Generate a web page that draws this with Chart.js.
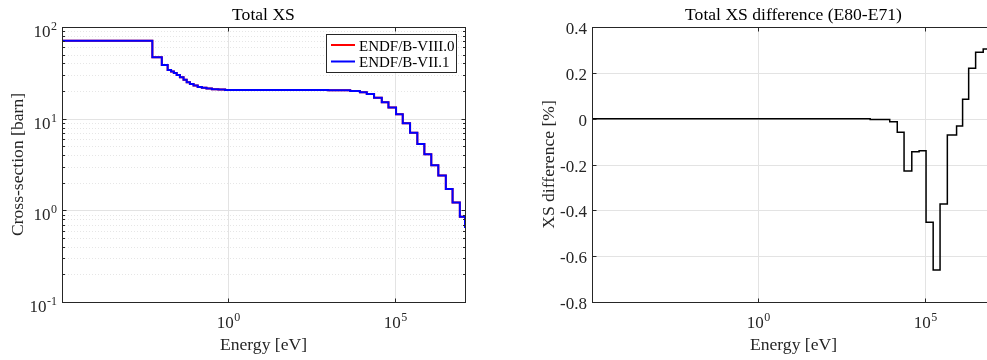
<!DOCTYPE html>
<html>
<head>
<meta charset="utf-8">
<script src="https://cdn.jsdelivr.net/npm/chart.js@4.4.1/dist/chart.umd.min.js"></script>
<style>
    html, body { margin: 0; padding: 0; width: 987px; height: 360px; overflow: hidden; background: #fff; }
    #xsChart { position: absolute; left: 0; top: 0; }
    #diffChart { position: absolute; left: 493px; top: 0; }
</style>
</head>
<body>
<canvas id="xsChart" width="493" height="360"></canvas>
<canvas id="diffChart" width="530" height="360"></canvas>
<script>
// group edges [eV] and total cross-section [barn]
const xsEnergy = [1e-5, 5.2e-3, 1.0e-2, 1.5e-2, 1.9e-2, 2.3e-2, 2.8e-2, 3.5e-2, 4.5e-2, 5.6e-2,
    7e-2, 9e-2, 0.12, 0.16, 0.22, 0.32, 0.5, 0.8, 2, 1e2, 1e3, 4.6e3, 9e3, 1.45e4, 2.4e4, 4.1e4,
    6.5e4, 1.1e5, 1.75e5, 2.9e5, 4.8e5, 7.8e5, 1.26e6, 2.05e6, 3.45e6, 5.5e6, 9.1e6, 1.3e7];
const xsE80 = [71, 46.7, 38.5, 34, 32.8, 31.5, 30, 28.3, 26.6, 25.0,
    23.9, 23.0, 22.2, 21.7, 21.3, 21.0, 20.8, 20.6, 20.5, 20.5, 20.4, 20.0, 19.4, 18.6, 16.9, 15.1,
    13.2, 11.2, 8.9, 7.0, 5.3, 4.1, 3.1, 2.4, 1.71, 1.22, 0.85, 0.64];
const xsE71 = [71, 46.7, 38.5, 34, 32.8, 31.5, 30, 28.3, 26.6, 25.0,
    23.9, 23.0, 22.2, 21.7, 21.3, 21.0, 20.8, 20.6, 20.5, 20.5, 20.4, 20.0, 19.4, 18.6, 16.9, 15.1,
    13.2, 11.2, 8.9, 7.0, 5.3, 4.1, 3.1, 2.4, 1.71, 1.22, 0.85, 0.64];

// difference E80 vs E71 [%]
const diffEnergy = [1e-5, 2.3e3, 8.9e3, 1.5e4, 2.4e4, 4.1e4, 6.8e4, 1.1e5, 1.8e5, 2.9e5,
    4.8e5, 9.1e5, 1.38e6, 2.1e6, 3.4e6, 5.75e6, 1.3e7];
const diffValues = [0, -0.004, -0.013, -0.059, -0.228, -0.144, -0.14, -0.452, -0.66, -0.372,
    -0.071, -0.032, 0.085, 0.22, 0.29, 0.304, 0.304];

const energyTicks = [1, 1e5];
const xsTicks = [0.1, 1, 10, 100];
const diffTicks = [-0.8, -0.6, -0.4, -0.2, 0, 0.2, 0.4];
const diffTickLabels = ['-0.8', '-0.6', '-0.4', '-0.2', '0', '0.2', '0.4'];

const FONT = '"Liberation Serif", "Times New Roman", serif';
const AXIS_COLOR = '#262626';

function crisp(p) { return Math.round(p) + 0.5; }

function line(ctx, x0, y0, x1, y1) {
    ctx.beginPath();
    ctx.moveTo(x0, y0);
    ctx.lineTo(x1, y1);
    ctx.stroke();
}

// "10" with a raised exponent, like matlab's log tick labels
function drawPower(ctx, value, x, baseline, align) {
    const exp = String(Math.round(Math.log10(value)));
    ctx.font = '17px ' + FONT;
    const w10 = ctx.measureText('10').width;
    ctx.font = '12px ' + FONT;
    const wExp = ctx.measureText(exp).width;
    const total = w10 + wExp + 0.5;
    const left = align === 'center' ? x - total / 2 : x - total;
    ctx.textAlign = 'left';
    ctx.textBaseline = 'alphabetic';
    ctx.font = '17px ' + FONT;
    ctx.fillText('10', left, baseline);
    ctx.font = '12px ' + FONT;
    ctx.fillText(exp, left + w10 + 0.5, baseline - 7);
}

const matlabAxes = {
    id: 'matlabAxes',
    beforeDatasetsDraw(chart, args, o) {
        const { ctx, chartArea: a } = chart;
        const xs = chart.scales.x, ys = chart.scales.y;
        ctx.save();
        ctx.lineWidth = 1;
        if (o.logY) {
            ctx.strokeStyle = '#e6e6e6';
            ctx.setLineDash([1, 2]);
            for (let k = -1; k < 2; k++) {
                for (let m = 2; m < 10; m++) {
                    const p = crisp(ys.getPixelForValue(m * Math.pow(10, k)));
                    line(ctx, a.left, p, a.right, p);
                }
            }
            ctx.setLineDash([]);
        }
        ctx.strokeStyle = '#e3e3e3';
        o.xTicks.forEach(v => {
            const p = crisp(xs.getPixelForValue(v));
            line(ctx, p, a.top, p, a.bottom);
        });
        o.yTicks.forEach(v => {
            const p = crisp(ys.getPixelForValue(v));
            line(ctx, a.left, p, a.right, p);
        });
        ctx.restore();
    },
    afterDatasetsDraw(chart, args, o) {
        const { ctx, chartArea: a } = chart;
        const xs = chart.scales.x, ys = chart.scales.y;
        const L = crisp(a.left), R = crisp(a.right), T = crisp(a.top), B = crisp(a.bottom);
        ctx.save();
        ctx.strokeStyle = AXIS_COLOR;
        ctx.fillStyle = AXIS_COLOR;
        ctx.lineWidth = 1;
        ctx.strokeRect(L, T, R - L, B - T);

        // x ticks + labels
        o.xTicks.forEach(v => {
            const p = crisp(xs.getPixelForValue(v));
            line(ctx, p, B, p, B - 4);
            line(ctx, p, T, p, T + 4);
            drawPower(ctx, v, p, 328, 'center');
        });

        // y ticks + labels
        o.yTicks.forEach((v, i) => {
            const p = crisp(ys.getPixelForValue(v));
            line(ctx, L, p, L + 4, p);
            line(ctx, R, p, R - 4, p);
            if (o.logY) {
                drawPower(ctx, v, a.left - 5, p + 9.5, 'right');
            } else {
                ctx.font = '17px ' + FONT;
                ctx.textAlign = 'right';
                ctx.textBaseline = 'alphabetic';
                ctx.fillText(o.yLabels[i], a.left - 5, p + 6);
            }
        });
        if (o.logY) {
            for (let k = -1; k < 2; k++) {
                for (let m = 2; m < 10; m++) {
                    const p = crisp(ys.getPixelForValue(m * Math.pow(10, k)));
                    line(ctx, L, p, L + 2.5, p);
                    line(ctx, R, p, R - 2.5, p);
                }
            }
        }

        // titles
        const cx = (a.left + a.right) / 2;
        ctx.fillStyle = '#000';
        ctx.textAlign = 'center';
        ctx.textBaseline = 'alphabetic';
        ctx.font = '17.6px ' + FONT;
        ctx.fillText(o.title, cx, 20);
        ctx.fillStyle = AXIS_COLOR;
        ctx.fillText(o.xTitle, cx, 350);
        ctx.save();
        ctx.translate(o.yTitleX, (a.top + a.bottom) / 2);
        ctx.rotate(-Math.PI / 2);
        ctx.fillText(o.yTitle, 0, 0);
        ctx.restore();

        // legend box
        if (o.legend) {
            ctx.fillStyle = '#fff';
            ctx.fillRect(326.5, 34.5, 130, 38);
            ctx.strokeStyle = AXIS_COLOR;
            ctx.strokeRect(326.5, 34.5, 130, 38);
            chart.data.datasets.forEach((ds, i) => {
                const y = 45 + i * 16.5;
                ctx.strokeStyle = ds.borderColor;
                ctx.lineWidth = 2;
                line(ctx, 331, y, 355, y);
                ctx.fillStyle = '#000';
                ctx.font = '15px ' + FONT;
                ctx.textAlign = 'left';
                ctx.fillText(ds.label, 359, y + 5.5);
            });
        }
        ctx.restore();
    }
};

function toPoints(xsArr, ysArr) {
    return xsArr.map((e, i) => ({ x: e, y: ysArr[i] }));
}

function logEnergyScale(height) {
    return {
        type: 'logarithmic',
        min: 1e-5,
        max: 1.3e7,
        ticks: { display: false },
        grid: { display: false },
        border: { display: false },
        afterFit: s => { s.height = height; }
    };
}

new Chart(document.getElementById('xsChart').getContext('2d'), {
    type: 'line',
    data: {
        datasets: [
            {
                label: 'ENDF/B-VIII.0',
                data: toPoints(xsEnergy, xsE80),
                borderColor: '#ff0000',
                borderWidth: 2,
                pointRadius: 0,
                stepped: true,
                fill: false,
                order: 2
            },
            {
                label: 'ENDF/B-VII.1',
                data: toPoints(xsEnergy, xsE71),
                borderColor: '#0000ff',
                borderWidth: 2,
                pointRadius: 0,
                stepped: true,
                fill: false,
                order: 1
            }
        ]
    },
    options: {
        responsive: false,
        devicePixelRatio: 1,
        animation: false,
        events: [],
        layout: { padding: { top: 27, right: 28, left: 0, bottom: 0 } },
        scales: {
            x: logEnergyScale(58),
            y: {
                type: 'logarithmic',
                min: 0.1,
                max: 100,
                ticks: { display: false },
                grid: { display: false },
                border: { display: false },
                afterFit: s => { s.width = 62; }
            }
        },
        plugins: {
            legend: { display: false },
            tooltip: { enabled: false },
            matlabAxes: {
                title: 'Total XS',
                xTitle: 'Energy [eV]',
                yTitle: 'Cross-section [barn]',
                yTitleX: 23,
                xTicks: energyTicks,
                yTicks: xsTicks,
                logY: true,
                legend: true
            }
        }
    },
    plugins: [matlabAxes]
});

new Chart(document.getElementById('diffChart').getContext('2d'), {
    type: 'line',
    data: {
        datasets: [
            {
                label: 'E80-E71',
                data: toPoints(diffEnergy, diffValues),
                borderColor: '#000000',
                borderWidth: 1.5,
                pointRadius: 0,
                stepped: true,
                fill: false
            }
        ]
    },
    options: {
        responsive: false,
        devicePixelRatio: 1,
        animation: false,
        events: [],
        layout: { padding: { top: 27, right: 28, left: 0, bottom: 0 } },
        scales: {
            x: logEnergyScale(58),
            y: {
                type: 'linear',
                min: -0.8,
                max: 0.4,
                ticks: { display: false },
                grid: { display: false },
                border: { display: false },
                afterFit: s => { s.width = 99; }
            }
        },
        plugins: {
            legend: { display: false },
            tooltip: { enabled: false },
            matlabAxes: {
                title: 'Total XS difference (E80-E71)',
                xTitle: 'Energy [eV]',
                yTitle: 'XS difference [%]',
                yTitleX: 61,
                xTicks: energyTicks,
                yTicks: diffTicks,
                yLabels: diffTickLabels,
                logY: false,
                legend: false
            }
        }
    },
    plugins: [matlabAxes]
});
</script>
</body>
</html>
